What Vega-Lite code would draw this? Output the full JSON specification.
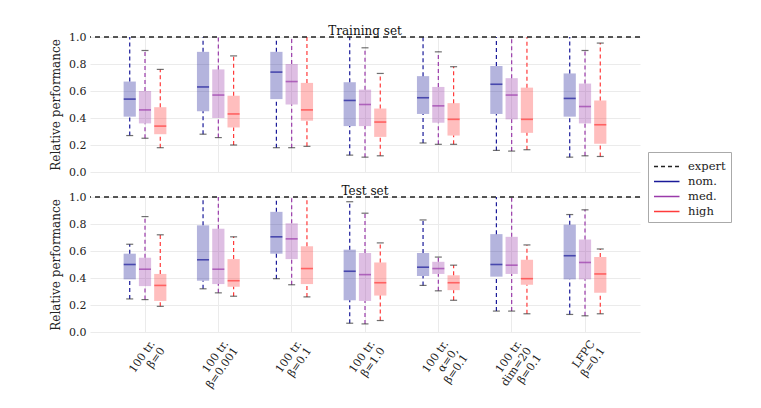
{
  "$schema": "https://vega.github.io/schema/vega-lite/v6.json",
  "padding": {"left": 49, "top": 25, "right": 5, "bottom": 5},
  "spacing": 8,
  "config": {
    "font": "DejaVu Serif",
    "view": {"stroke": null},
    "axis": {"labelFont": "DejaVu Serif", "titleFont": "DejaVu Serif", "labelFontSize": 11, "titleFontSize": 12, "titleFontWeight": "normal", "labelColor": "#222", "titleColor": "#222", "gridColor": "#ebebeb", "domain": false, "ticks": false},
    "title": {"font": "DejaVu Serif", "fontSize": 12, "fontWeight": "normal", "offset": -7, "color": "#111"},
    "legend": {"labelFont": "DejaVu Serif", "labelFontSize": 11.5, "labelColor": "#222", "symbolType": "M-1,0H2", "symbolSize": 289, "symbolStrokeWidth": 1.5, "strokeColor": "#aaaaaa", "fillColor": "white", "padding": 5, "rowPadding": -1.5, "labelOffset": 16}
  },
  "data": {"values": [
    {"set": "train", "cond": "100 tr.\nβ=0", "series": "nom.", "lo": 0.27, "q1": 0.41, "med": 0.54, "q3": 0.67, "hi": 1.0},
    {"set": "train", "cond": "100 tr.\nβ=0", "series": "med.", "lo": 0.25, "q1": 0.36, "med": 0.46, "q3": 0.60, "hi": 0.90},
    {"set": "train", "cond": "100 tr.\nβ=0", "series": "high", "lo": 0.18, "q1": 0.28, "med": 0.34, "q3": 0.48, "hi": 0.76},
    {"set": "train", "cond": "100 tr.\nβ=0.001", "series": "nom.", "lo": 0.28, "q1": 0.45, "med": 0.63, "q3": 0.89, "hi": 1.0},
    {"set": "train", "cond": "100 tr.\nβ=0.001", "series": "med.", "lo": 0.255, "q1": 0.40, "med": 0.57, "q3": 0.76, "hi": 1.0},
    {"set": "train", "cond": "100 tr.\nβ=0.001", "series": "high", "lo": 0.20, "q1": 0.33, "med": 0.43, "q3": 0.565, "hi": 0.86},
    {"set": "train", "cond": "100 tr.\nβ=0.1", "series": "nom.", "lo": 0.18, "q1": 0.54, "med": 0.74, "q3": 0.89, "hi": 1.0},
    {"set": "train", "cond": "100 tr.\nβ=0.1", "series": "med.", "lo": 0.18, "q1": 0.50, "med": 0.67, "q3": 0.80, "hi": 1.0},
    {"set": "train", "cond": "100 tr.\nβ=0.1", "series": "high", "lo": 0.19, "q1": 0.38, "med": 0.46, "q3": 0.66, "hi": 1.0},
    {"set": "train", "cond": "100 tr.\nβ=1.0", "series": "nom.", "lo": 0.125, "q1": 0.34, "med": 0.53, "q3": 0.665, "hi": 1.0},
    {"set": "train", "cond": "100 tr.\nβ=1.0", "series": "med.", "lo": 0.11, "q1": 0.34, "med": 0.50, "q3": 0.61, "hi": 0.92},
    {"set": "train", "cond": "100 tr.\nβ=1.0", "series": "high", "lo": 0.12, "q1": 0.26, "med": 0.37, "q3": 0.47, "hi": 0.73},
    {"set": "train", "cond": "100 tr.\nα=0,\nβ=0.1", "series": "nom.", "lo": 0.215, "q1": 0.43, "med": 0.55, "q3": 0.71, "hi": 1.0},
    {"set": "train", "cond": "100 tr.\nα=0,\nβ=0.1", "series": "med.", "lo": 0.205, "q1": 0.365, "med": 0.49, "q3": 0.63, "hi": 0.89},
    {"set": "train", "cond": "100 tr.\nα=0,\nβ=0.1", "series": "high", "lo": 0.205, "q1": 0.27, "med": 0.39, "q3": 0.51, "hi": 0.78},
    {"set": "train", "cond": "100 tr.\ndim=20\nβ=0.1", "series": "nom.", "lo": 0.16, "q1": 0.43, "med": 0.65, "q3": 0.785, "hi": 1.0},
    {"set": "train", "cond": "100 tr.\ndim=20\nβ=0.1", "series": "med.", "lo": 0.155, "q1": 0.39, "med": 0.57, "q3": 0.695, "hi": 1.0},
    {"set": "train", "cond": "100 tr.\ndim=20\nβ=0.1", "series": "high", "lo": 0.165, "q1": 0.29, "med": 0.39, "q3": 0.625, "hi": 1.0},
    {"set": "train", "cond": "LFPC\nβ=0.1", "series": "nom.", "lo": 0.11, "q1": 0.41, "med": 0.545, "q3": 0.73, "hi": 1.0},
    {"set": "train", "cond": "LFPC\nβ=0.1", "series": "med.", "lo": 0.12, "q1": 0.36, "med": 0.485, "q3": 0.655, "hi": 0.90},
    {"set": "train", "cond": "LFPC\nβ=0.1", "series": "high", "lo": 0.115, "q1": 0.21, "med": 0.35, "q3": 0.53, "hi": 0.955},
    {"set": "test", "cond": "100 tr.\nβ=0", "series": "nom.", "lo": 0.245, "q1": 0.39, "med": 0.50, "q3": 0.58, "hi": 0.65},
    {"set": "test", "cond": "100 tr.\nβ=0", "series": "med.", "lo": 0.24, "q1": 0.34, "med": 0.465, "q3": 0.55, "hi": 0.855},
    {"set": "test", "cond": "100 tr.\nβ=0", "series": "high", "lo": 0.19, "q1": 0.23, "med": 0.345, "q3": 0.43, "hi": 0.72},
    {"set": "test", "cond": "100 tr.\nβ=0.001", "series": "nom.", "lo": 0.32, "q1": 0.38, "med": 0.535, "q3": 0.79, "hi": 1.0},
    {"set": "test", "cond": "100 tr.\nβ=0.001", "series": "med.", "lo": 0.29, "q1": 0.355, "med": 0.465, "q3": 0.765, "hi": 1.0},
    {"set": "test", "cond": "100 tr.\nβ=0.001", "series": "high", "lo": 0.265, "q1": 0.335, "med": 0.38, "q3": 0.54, "hi": 0.705},
    {"set": "test", "cond": "100 tr.\nβ=0.1", "series": "nom.", "lo": 0.395, "q1": 0.58, "med": 0.705, "q3": 0.89, "hi": 1.0},
    {"set": "test", "cond": "100 tr.\nβ=0.1", "series": "med.", "lo": 0.35, "q1": 0.54, "med": 0.69, "q3": 0.805, "hi": 1.0},
    {"set": "test", "cond": "100 tr.\nβ=0.1", "series": "high", "lo": 0.26, "q1": 0.355, "med": 0.47, "q3": 0.635, "hi": 1.0},
    {"set": "test", "cond": "100 tr.\nβ=1.0", "series": "nom.", "lo": 0.065, "q1": 0.235, "med": 0.45, "q3": 0.61, "hi": 0.965},
    {"set": "test", "cond": "100 tr.\nβ=1.0", "series": "med.", "lo": 0.06, "q1": 0.23, "med": 0.425, "q3": 0.585, "hi": 0.88},
    {"set": "test", "cond": "100 tr.\nβ=1.0", "series": "high", "lo": 0.085, "q1": 0.27, "med": 0.365, "q3": 0.515, "hi": 0.66},
    {"set": "test", "cond": "100 tr.\nα=0,\nβ=0.1", "series": "nom.", "lo": 0.345, "q1": 0.415, "med": 0.48, "q3": 0.585, "hi": 0.83},
    {"set": "test", "cond": "100 tr.\nα=0,\nβ=0.1", "series": "med.", "lo": 0.305, "q1": 0.43, "med": 0.47, "q3": 0.52, "hi": 0.555},
    {"set": "test", "cond": "100 tr.\nα=0,\nβ=0.1", "series": "high", "lo": 0.235, "q1": 0.31, "med": 0.365, "q3": 0.42, "hi": 0.495},
    {"set": "test", "cond": "100 tr.\ndim=20\nβ=0.1", "series": "nom.", "lo": 0.155, "q1": 0.41, "med": 0.50, "q3": 0.725, "hi": 1.0},
    {"set": "test", "cond": "100 tr.\ndim=20\nβ=0.1", "series": "med.", "lo": 0.155, "q1": 0.43, "med": 0.495, "q3": 0.705, "hi": 1.0},
    {"set": "test", "cond": "100 tr.\ndim=20\nβ=0.1", "series": "high", "lo": 0.135, "q1": 0.35, "med": 0.395, "q3": 0.535, "hi": 0.645},
    {"set": "test", "cond": "LFPC\nβ=0.1", "series": "nom.", "lo": 0.13, "q1": 0.39, "med": 0.565, "q3": 0.795, "hi": 0.87},
    {"set": "test", "cond": "LFPC\nβ=0.1", "series": "med.", "lo": 0.12, "q1": 0.39, "med": 0.515, "q3": 0.685, "hi": 0.905},
    {"set": "test", "cond": "LFPC\nβ=0.1", "series": "high", "lo": 0.135, "q1": 0.29, "med": 0.43, "q3": 0.555, "hi": 0.615}
  ]},
  "vconcat": [
    {
      "title": {"text": "Training set"},
      "width": 550,
      "height": 135,
      "transform": [{"filter": "datum.set === 'train'"}],
      "layer": [
        {
          "mark": {"type": "rule", "strokeDash": [4, 3], "strokeWidth": 1.2},
          "encoding": {
            "x": {"field": "cond", "type": "nominal", "sort": null, "scale": {"paddingInner": 0, "paddingOuter": 0.25}, "axis": {"labels": false, "title": null, "grid": true}},
            "xOffset": {"field": "series", "type": "nominal", "scale": {"domain": ["nom.", "med.", "high"], "paddingInner": 0.2, "paddingOuter": 1.13}},
            "y": {"field": "lo", "type": "quantitative", "scale": {"domain": [0, 1], "nice": false}, "axis": {"title": "Relative performance", "values": [0, 0.2, 0.4, 0.6, 0.8, 1.0], "format": ".1f", "labelPadding": 4, "titlePadding": 6}},
            "y2": {"field": "q1"},
            "color": {"field": "series", "type": "nominal", "scale": {"domain": ["expert", "nom.", "med.", "high"], "range": ["#222222", "#1a1a99", "#9a3aaa", "#ff3b3b"]}, "legend": {"title": null, "orient": "none", "legendX": 558, "legendY": 115, "encode": {"symbols": {"update": {"strokeDash": {"signal": "datum.value === 'expert' ? [4, 3] : [1, 0]"}}}}}}
          }
        },
        {
          "mark": {"type": "rule", "strokeDash": [4, 3], "strokeWidth": 1.2},
          "encoding": {
            "x": {"field": "cond", "type": "nominal", "sort": null},
            "xOffset": {"field": "series", "type": "nominal"},
            "y": {"field": "q3", "type": "quantitative", "scale": {"domain": [0, 1], "nice": false}, "axis": {"title": "Relative performance", "values": [0, 0.2, 0.4, 0.6, 0.8, 1.0], "format": ".1f", "labelPadding": 4, "titlePadding": 6}},
            "y2": {"field": "hi"},
            "color": {"field": "series", "type": "nominal", "legend": {"title": null, "orient": "none", "legendX": 558, "legendY": 115, "encode": {"symbols": {"update": {"strokeDash": {"signal": "datum.value === 'expert' ? [4, 3] : [1, 0]"}}}}}}
          }
        },
        {
          "mark": {"type": "bar", "opacity": 0.33},
          "encoding": {
            "x": {"field": "cond", "type": "nominal", "sort": null},
            "xOffset": {"field": "series", "type": "nominal"},
            "y": {"field": "q1", "type": "quantitative", "scale": {"domain": [0, 1], "nice": false}, "axis": {"title": "Relative performance", "values": [0, 0.2, 0.4, 0.6, 0.8, 1.0], "format": ".1f", "labelPadding": 4, "titlePadding": 6}},
            "y2": {"field": "q3"},
            "fill": {"field": "series", "type": "nominal", "scale": {"domain": ["expert", "nom.", "med.", "high"], "range": ["#222222", "#1a1a99", "#9a3aaa", "#ff3b3b"]}, "legend": null}
          }
        },
        {
          "mark": {"type": "tick", "thickness": 1.6, "size": 12},
          "encoding": {
            "x": {"field": "cond", "type": "nominal", "sort": null},
            "xOffset": {"field": "series", "type": "nominal"},
            "y": {"field": "med", "type": "quantitative", "scale": {"domain": [0, 1], "nice": false}, "axis": {"title": "Relative performance", "values": [0, 0.2, 0.4, 0.6, 0.8, 1.0], "format": ".1f", "labelPadding": 4, "titlePadding": 6}},
            "fill": {"field": "series", "type": "nominal", "legend": null}
          }
        },
        {
          "mark": {"type": "tick", "thickness": 1.2, "size": 7, "color": "#333333"},
          "encoding": {
            "x": {"field": "cond", "type": "nominal", "sort": null},
            "xOffset": {"field": "series", "type": "nominal"},
            "y": {"field": "lo", "type": "quantitative", "scale": {"domain": [0, 1], "nice": false}, "axis": {"title": "Relative performance", "values": [0, 0.2, 0.4, 0.6, 0.8, 1.0], "format": ".1f", "labelPadding": 4, "titlePadding": 6}}
          }
        },
        {
          "transform": [{"filter": "datum.hi < 0.99"}],
          "mark": {"type": "tick", "thickness": 1.2, "size": 7, "color": "#333333"},
          "encoding": {
            "x": {"field": "cond", "type": "nominal", "sort": null},
            "xOffset": {"field": "series", "type": "nominal"},
            "y": {"field": "hi", "type": "quantitative", "scale": {"domain": [0, 1], "nice": false}, "axis": {"title": "Relative performance", "values": [0, 0.2, 0.4, 0.6, 0.8, 1.0], "format": ".1f", "labelPadding": 4, "titlePadding": 6}}
          }
        },
        {
          "data": {"values": [{"series": "expert", "v": 1.0}]},
          "mark": {"type": "rule", "strokeDash": [5, 4], "strokeWidth": 1.3},
          "encoding": {
            "y": {"field": "v", "type": "quantitative", "scale": {"domain": [0, 1], "nice": false}, "axis": {"title": "Relative performance", "values": [0, 0.2, 0.4, 0.6, 0.8, 1.0], "format": ".1f", "labelPadding": 4, "titlePadding": 6}},
            "color": {"field": "series", "type": "nominal", "legend": {"title": null, "orient": "none", "legendX": 558, "legendY": 115, "encode": {"symbols": {"update": {"strokeDash": {"signal": "datum.value === 'expert' ? [4, 3] : [1, 0]"}}}}}}
          }
        }
      ]
    },
    {
      "title": {"text": "Test set"},
      "width": 550,
      "height": 135,
      "transform": [{"filter": "datum.set === 'test'"}],
      "layer": [
        {
          "mark": {"type": "rule", "strokeDash": [4, 3], "strokeWidth": 1.2},
          "encoding": {
            "x": {"field": "cond", "type": "nominal", "sort": null, "scale": {"paddingInner": 0, "paddingOuter": 0.25}, "axis": {"title": null, "grid": true, "labelExpr": "split(datum.label, '\\n')", "labelAngle": -55, "labelAlign": "right", "labelBaseline": "top", "labelPadding": 6, "labelOffset": 3, "labelLineHeight": 12}},
            "xOffset": {"field": "series", "type": "nominal", "scale": {"domain": ["nom.", "med.", "high"], "paddingInner": 0.2, "paddingOuter": 1.13}},
            "y": {"field": "lo", "type": "quantitative", "scale": {"domain": [0, 1], "nice": false}, "axis": {"title": "Relative performance", "values": [0, 0.2, 0.4, 0.6, 0.8, 1.0], "format": ".1f", "labelPadding": 4, "titlePadding": 6}},
            "y2": {"field": "q1"},
            "color": {"field": "series", "type": "nominal", "scale": {"domain": ["expert", "nom.", "med.", "high"], "range": ["#222222", "#1a1a99", "#9a3aaa", "#ff3b3b"]}, "legend": {"title": null, "orient": "none", "legendX": 558, "legendY": 115, "encode": {"symbols": {"update": {"strokeDash": {"signal": "datum.value === 'expert' ? [4, 3] : [1, 0]"}}}}}}
          }
        },
        {
          "mark": {"type": "rule", "strokeDash": [4, 3], "strokeWidth": 1.2},
          "encoding": {
            "x": {"field": "cond", "type": "nominal", "sort": null},
            "xOffset": {"field": "series", "type": "nominal"},
            "y": {"field": "q3", "type": "quantitative", "scale": {"domain": [0, 1], "nice": false}, "axis": {"title": "Relative performance", "values": [0, 0.2, 0.4, 0.6, 0.8, 1.0], "format": ".1f", "labelPadding": 4, "titlePadding": 6}},
            "y2": {"field": "hi"},
            "color": {"field": "series", "type": "nominal", "legend": {"title": null, "orient": "none", "legendX": 558, "legendY": 115, "encode": {"symbols": {"update": {"strokeDash": {"signal": "datum.value === 'expert' ? [4, 3] : [1, 0]"}}}}}}
          }
        },
        {
          "mark": {"type": "bar", "opacity": 0.33},
          "encoding": {
            "x": {"field": "cond", "type": "nominal", "sort": null},
            "xOffset": {"field": "series", "type": "nominal"},
            "y": {"field": "q1", "type": "quantitative", "scale": {"domain": [0, 1], "nice": false}, "axis": {"title": "Relative performance", "values": [0, 0.2, 0.4, 0.6, 0.8, 1.0], "format": ".1f", "labelPadding": 4, "titlePadding": 6}},
            "y2": {"field": "q3"},
            "fill": {"field": "series", "type": "nominal", "scale": {"domain": ["expert", "nom.", "med.", "high"], "range": ["#222222", "#1a1a99", "#9a3aaa", "#ff3b3b"]}, "legend": null}
          }
        },
        {
          "mark": {"type": "tick", "thickness": 1.6, "size": 12},
          "encoding": {
            "x": {"field": "cond", "type": "nominal", "sort": null},
            "xOffset": {"field": "series", "type": "nominal"},
            "y": {"field": "med", "type": "quantitative", "scale": {"domain": [0, 1], "nice": false}, "axis": {"title": "Relative performance", "values": [0, 0.2, 0.4, 0.6, 0.8, 1.0], "format": ".1f", "labelPadding": 4, "titlePadding": 6}},
            "fill": {"field": "series", "type": "nominal", "legend": null}
          }
        },
        {
          "mark": {"type": "tick", "thickness": 1.2, "size": 7, "color": "#333333"},
          "encoding": {
            "x": {"field": "cond", "type": "nominal", "sort": null},
            "xOffset": {"field": "series", "type": "nominal"},
            "y": {"field": "lo", "type": "quantitative", "scale": {"domain": [0, 1], "nice": false}, "axis": {"title": "Relative performance", "values": [0, 0.2, 0.4, 0.6, 0.8, 1.0], "format": ".1f", "labelPadding": 4, "titlePadding": 6}}
          }
        },
        {
          "transform": [{"filter": "datum.hi < 0.99"}],
          "mark": {"type": "tick", "thickness": 1.2, "size": 7, "color": "#333333"},
          "encoding": {
            "x": {"field": "cond", "type": "nominal", "sort": null},
            "xOffset": {"field": "series", "type": "nominal"},
            "y": {"field": "hi", "type": "quantitative", "scale": {"domain": [0, 1], "nice": false}, "axis": {"title": "Relative performance", "values": [0, 0.2, 0.4, 0.6, 0.8, 1.0], "format": ".1f", "labelPadding": 4, "titlePadding": 6}}
          }
        },
        {
          "data": {"values": [{"series": "expert", "v": 1.0}]},
          "mark": {"type": "rule", "strokeDash": [5, 4], "strokeWidth": 1.3},
          "encoding": {
            "y": {"field": "v", "type": "quantitative", "scale": {"domain": [0, 1], "nice": false}, "axis": {"title": "Relative performance", "values": [0, 0.2, 0.4, 0.6, 0.8, 1.0], "format": ".1f", "labelPadding": 4, "titlePadding": 6}},
            "color": {"field": "series", "type": "nominal", "legend": {"title": null, "orient": "none", "legendX": 558, "legendY": 115, "encode": {"symbols": {"update": {"strokeDash": {"signal": "datum.value === 'expert' ? [4, 3] : [1, 0]"}}}}}}
          }
        }
      ]
    }
  ]
}
